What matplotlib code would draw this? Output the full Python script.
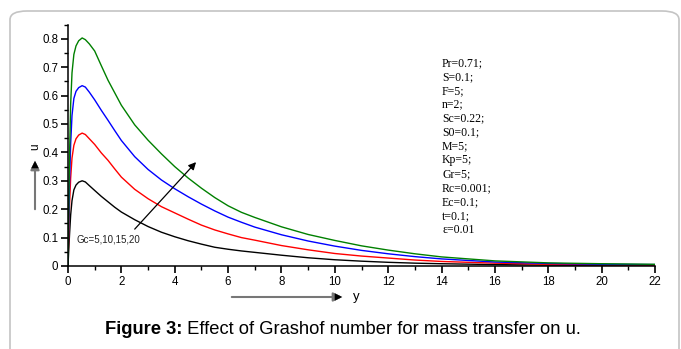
import matplotlib
matplotlib.use("Agg")
import matplotlib.pyplot as plt
from matplotlib.patches import FancyBboxPatch, FancyArrowPatch
from matplotlib.ticker import MultipleLocator

# ---- data ----
y_vals = [0, 0.03, 0.06, 0.1, 0.15, 0.22, 0.3, 0.4, 0.53, 0.65, 0.8, 1.0, 1.25, 1.5, 1.75,
          2.0, 2.5, 3.0, 3.5, 4.0, 4.5, 5.0, 5.5, 6.0, 6.5, 7.0, 8, 9, 10, 11, 12, 13, 14,
          16, 18, 20, 22]
u_gc5 = [0, 0.06, 0.115, 0.18, 0.23, 0.268, 0.285, 0.295, 0.300, 0.296, 0.283, 0.266, 0.245,
         0.226, 0.207, 0.190, 0.163, 0.139, 0.119, 0.103, 0.089, 0.077, 0.066, 0.059, 0.053,
         0.048, 0.038, 0.029, 0.022, 0.017, 0.013, 0.010, 0.008, 0.005, 0.003, 0.002, 0.002]
u_gc10 = [0, 0.12, 0.22, 0.31, 0.38, 0.425, 0.448, 0.461, 0.468, 0.463, 0.448, 0.428, 0.398,
          0.372, 0.342, 0.313, 0.270, 0.237, 0.209, 0.187, 0.165, 0.144, 0.127, 0.113, 0.100,
          0.091, 0.072, 0.057, 0.044, 0.035, 0.028, 0.021, 0.016, 0.010, 0.006, 0.004, 0.003]
u_gc15 = [0, 0.17, 0.30, 0.43, 0.53, 0.59, 0.615, 0.628, 0.635, 0.630, 0.612, 0.585, 0.548,
          0.513, 0.477, 0.442, 0.385, 0.340, 0.303, 0.272, 0.244, 0.218, 0.194, 0.172, 0.154,
          0.137, 0.110, 0.088, 0.070, 0.055, 0.043, 0.033, 0.025, 0.014, 0.009, 0.006, 0.005]
u_gc20 = [0, 0.22, 0.40, 0.57, 0.68, 0.745, 0.775, 0.793, 0.803, 0.797, 0.782, 0.757, 0.705,
          0.654, 0.610, 0.566, 0.497, 0.443, 0.395, 0.350, 0.310, 0.274, 0.241, 0.212, 0.189,
          0.171, 0.138, 0.111, 0.090, 0.071, 0.056, 0.043, 0.032, 0.018, 0.011, 0.008, 0.006]
series = [u_gc5, u_gc10, u_gc15, u_gc20]
colors = ["black", "red", "blue", "green"]
params = ["Pr=0.71;", "S=0.1;", "F=5;", "n=2;", "Sc=0.22;", "S0=0.1;", "M=5;", "Kp=5;",
          "Gr=5;", "Rc=0.001;", "Ec=0.1;", "t=0.1;", "\u03b5=0.01"]
annot_text = "Gc=5,10,15,20"
caption_bold = "Figure 3:"
caption_rest = " Effect of Grashof number for mass transfer on u."

W, H = 681, 349
fig = plt.figure(figsize=(W / 100, H / 100), dpi=100)
plt.rcParams['font.family'] = ['Liberation Sans', 'DejaVu Sans']

# rounded border
box = FancyBboxPatch((10 / W, -0.2), (W - 2 - 10) / W, 1.2 - 11 / H,
                     boxstyle="round,pad=0,rounding_size=0.025",
                     transform=fig.transFigure, fill=False, edgecolor="#c4c4c4",
                     linewidth=1.2, clip_on=False)
fig.patches.append(box)

ax = fig.add_axes([68 / W, 83 / H, (655 - 68) / W, 241.4 / H])
for s, c in zip(series, colors):
    ax.plot(y_vals, s, color=c, linewidth=1.0)

ax.set_xlim(0, 22)
ax.set_ylim(0, 0.85)
ax.xaxis.set_major_locator(MultipleLocator(2))
ax.xaxis.set_minor_locator(MultipleLocator(1))
ax.yaxis.set_minor_locator(MultipleLocator(0.05))
ax.set_yticks([0, 0.1, 0.2, 0.3, 0.4, 0.5, 0.6, 0.7, 0.8])
ax.set_yticklabels(["0", "0.1", "0.2", "0.3", "0.4", "0.5", "0.6", "0.7", "0.8"])
ax.tick_params(which="major", direction="out", length=5, width=1.2, labelsize=8.3, pad=2)
ax.tick_params(which="minor", direction="out", length=3, width=1)
for sp in ["top", "right"]:
    ax.spines[sp].set_visible(False)
for sp in ["left", "bottom"]:
    ax.spines[sp].set_linewidth(1.1)

# annotation arrow
ax.annotate("", xy=(4.87, 0.373), xytext=(2.43, 0.1226),
            arrowprops=dict(arrowstyle="-|>", color="black", lw=0.9, mutation_scale=11))
ax.text(0.3, 0.095, annot_text, fontsize=7, va="center", ha="left", color="#222222")

# parameters text
for i, p in enumerate(params):
    fig.text(442 / W, 1 - (63 + i * 13.9) / H, p, fontsize=8.5,
             family=["Liberation Serif", "DejaVu Serif"], va="center", ha="left")

# axis labels with arrows
fig.text(35 / W, 1 - 147 / H, "u", rotation=90, fontsize=8.5, ha="center", va="center")
fig.patches.append(FancyArrowPatch((35 / W, 1 - 212 / H), (35 / W, 1 - 158 / H),
                                   transform=fig.transFigure, arrowstyle="-|>",
                                   mutation_scale=13, color="#777777", lw=1.5))
fig.patches.append(FancyArrowPatch((35 / W, 1 - 168 / H), (35 / W, 1 - 158 / H),
                                   transform=fig.transFigure, arrowstyle="-|>",
                                   mutation_scale=13, color="black", lw=0.1))
fig.text(356 / W, 1 - 297 / H, "y", fontsize=9.5, ha="center", va="center")
fig.patches.append(FancyArrowPatch((229 / W, 1 - 297 / H), (345 / W, 1 - 297 / H),
                                   transform=fig.transFigure, arrowstyle="-|>",
                                   mutation_scale=13, color="#777777", lw=1.5))
fig.patches.append(FancyArrowPatch((335 / W, 1 - 297 / H), (345 / W, 1 - 297 / H),
                                   transform=fig.transFigure, arrowstyle="-|>",
                                   mutation_scale=13, color="black", lw=0.1))

# caption
t1 = fig.text(105 / W, 1 - 330 / H, caption_bold, fontsize=13.2, fontweight="bold",
              ha="left", va="center")
fig.canvas.draw()
bb = t1.get_window_extent()
fig.text(bb.x1 / W, 1 - 330 / H, caption_rest, fontsize=13.2, ha="left", va="center")

fig.savefig("out.png", dpi=100)
